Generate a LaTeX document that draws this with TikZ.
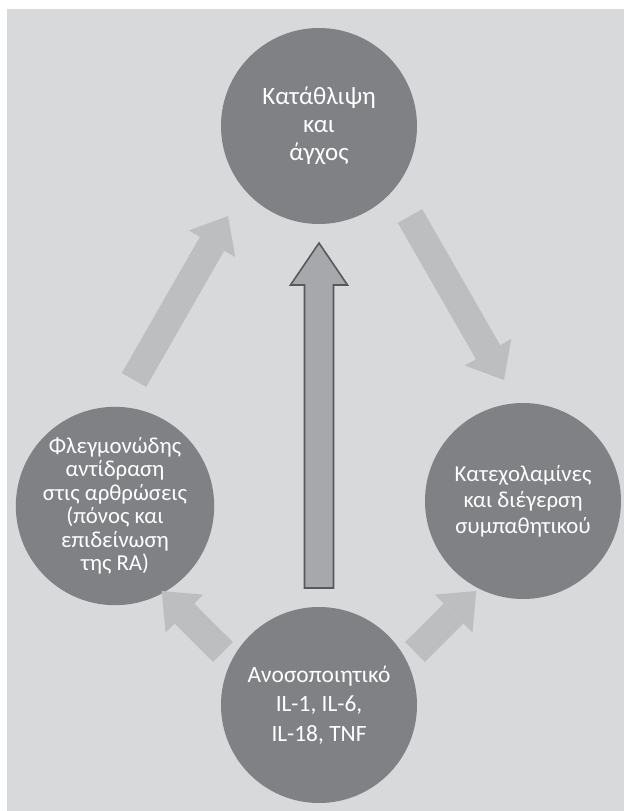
\documentclass[tikz,border=0pt]{standalone}
\usepackage{fontspec}
\setmainfont{Carlito}
\usetikzlibrary{arrows.meta,calc}
\definecolor{bggray}{HTML}{D8D9DA}
\definecolor{circgray}{HTML}{808184}
\definecolor{arrgray}{HTML}{BCBEC0}
\definecolor{midfill}{HTML}{A6A8AB}
\definecolor{midline}{HTML}{58595B}
\tikzset{
  bubble/.style={circle, fill=circgray, minimum size=196pt, inner sep=0pt,
    text=white, align=center, font=\fontsize{25}{28}\selectfont},
  lightarrow/.style={draw=arrgray, line width=28pt,
    -{Triangle[width=53.5pt,length=32pt,line width=0pt]}},
  bigarrow/.style={fill=midfill, draw=midline, line width=1.6pt, line join=miter}
}
\begin{document}
\begin{tikzpicture}[x=1pt,y=-1pt]
\useasboundingbox (0,0) rectangle (624,811);
\fill[bggray] (7,9) rectangle (624,811);
% nodes
\node[bubble] (top) at (319,126) {Κατάθλιψη\\και\\άγχος};
\node[bubble, font=\fontsize{22.8}{26}\selectfont] (right) at (523,501) {Κατεχολαμίνες\\και διέγερση\\συμπαθητικού};
\node[bubble, font=\fontsize{22.8}{23.5}\selectfont] (left) at (115,506) {Φλεγμονώδης\\αντίδραση\\στις αρθρώσεις\\(πόνος και\\επιδείνωση\\της RA)};
\node[bubble, font=\fontsize{23.4}{29.5}\selectfont] (bottom) at (319,705) {Ανοσοποιητικό\\IL-1, IL-6,\\IL-18, TNF};
% arrow end points
\coordinate (aT) at (134,380); \coordinate (aH) at (228,216);
\coordinate (bT) at (410,216); \coordinate (bH) at (504,380);
\coordinate (cT) at (223,652); \coordinate (cH) at (161.7,591);
\coordinate (dT) at (415,652); \coordinate (dH) at (476.3,591);
\coordinate (mT) at (319,588); \coordinate (mH) at (319,243);
\draw[lightarrow] (aT) -- (aH);
\draw[lightarrow] (bT) -- (bH);
\draw[lightarrow] (cT) -- (cH);
\draw[lightarrow] (dT) -- (dH);
\draw[bigarrow] ($(mT)+(-14.5,0)$) -- ($(mH)+(-14.5,42)$) -- ($(mH)+(-28.5,42)$) -- (mH)
  -- ($(mH)+(28.5,42)$) -- ($(mH)+(14.5,42)$) -- ($(mT)+(14.5,0)$) -- cycle;
\end{tikzpicture}
\end{document}
